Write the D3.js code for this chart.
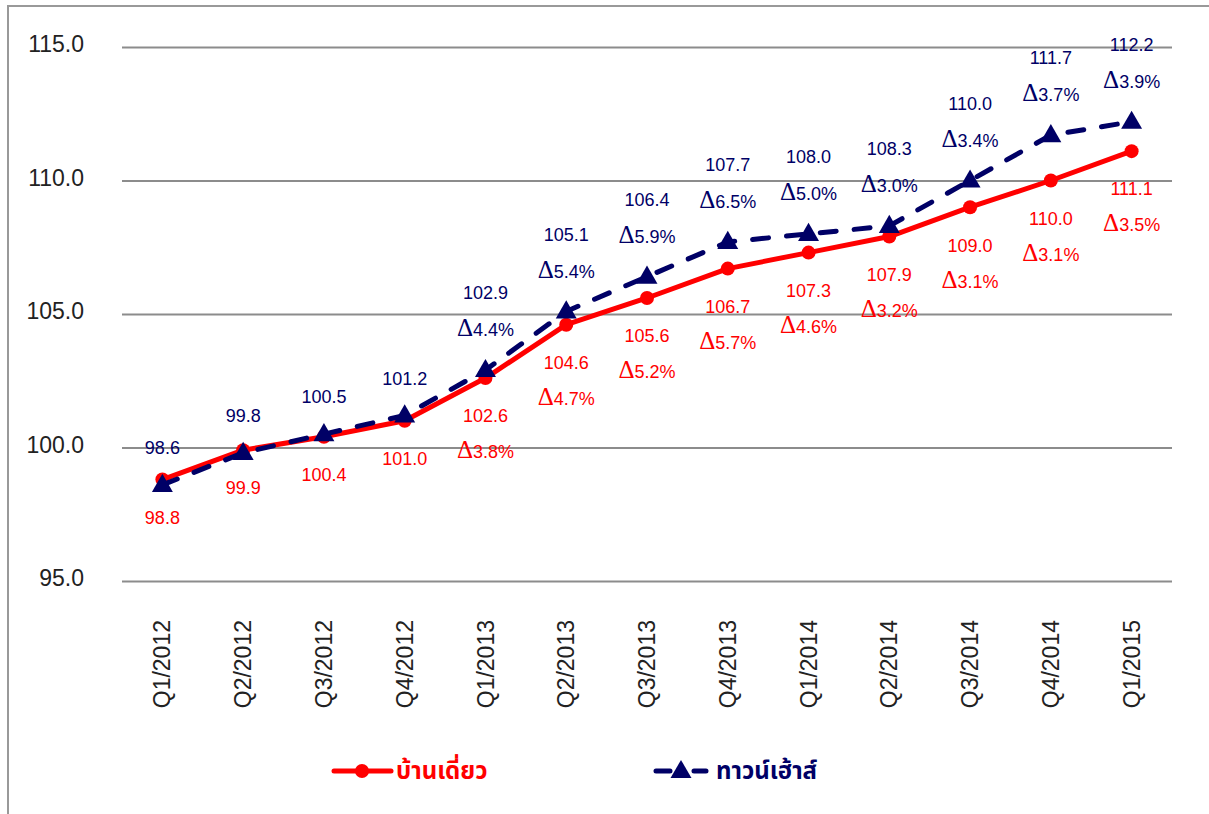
<!DOCTYPE html>
<html>
<head>
  <meta charset="utf-8">
  <title>ดัชนีราคาบ้านเดี่ยวและทาวน์เฮ้าส์</title>
  <script src="https://d3js.org/d3.v7.min.js"></script>
  <style>
    body { margin: 0; background: #fff; }
    .grid line { stroke: #8c8c8c; stroke-width: 2px; }
    .grid text { font: 23px "Liberation Sans", Arial, sans-serif; fill: #222; }
    .xaxis text { font: 23px "Liberation Sans", Arial, sans-serif; fill: #222; }
    .val { font: 18px "Liberation Sans", Arial, sans-serif; text-anchor: middle; }
    .delta { font-family: "Liberation Serif", "DejaVu Serif", serif; font-size: 25px; }
    .legend text { font: bold 24px "Noto Sans Thai", "Noto Sans", "DejaVu Sans", sans-serif; }
  </style>
</head>
<body>
<script>
  // quarters and index values
  const quarters = ["Q1/2012", "Q2/2012", "Q3/2012", "Q4/2012", "Q1/2013", "Q2/2013", "Q3/2013",
                    "Q4/2013", "Q1/2014", "Q2/2014", "Q3/2014", "Q4/2014", "Q1/2015"];
  const detached = [98.8, 99.9, 100.4, 101.0, 102.6, 104.6, 105.6, 106.7, 107.3, 107.9, 109.0, 110.0, 111.1];
  const townhouse = [98.6, 99.8, 100.5, 101.2, 102.9, 105.1, 106.4, 107.7, 108.0, 108.3, 110.0, 111.7, 112.2];
  // year-on-year change in %
  const detachedYoY = [null, null, null, null, 3.8, 4.7, 5.2, 5.7, 4.6, 3.2, 3.1, 3.1, 3.5];
  const townhouseYoY = [null, null, null, null, 4.4, 5.4, 5.9, 6.5, 5.0, 3.0, 3.4, 3.7, 3.9];
  const yTicks = [95, 100, 105, 110, 115];
  const seriesNames = ["บ้านเดี่ยว", "ทาวน์เฮ้าส์"];

  const red = "#ff0000";
  const navy = "#000066";

  const width = 1209, height = 814;
  const margin = { top: 47, right: 1172, bottom: 581, left: 122 };

  const svg = d3.select("body").append("svg")
      .attr("width", width)
      .attr("height", height);

  // outer frame (only top and left edges are visible)
  svg.append("path")
      .attr("d", `M8,${height} V6 H${width}`)
      .attr("fill", "none")
      .attr("stroke", "#999")
      .attr("stroke-width", 2);

  const x = d3.scaleBand().domain(quarters).range([margin.left, margin.right]);
  const cx = q => x(q) + x.bandwidth() / 2;
  const y = d3.scaleLinear().domain([95, 115]).range([margin.bottom, margin.top]);

  // gridlines + y labels
  const grid = svg.append("g")
      .attr("class", "grid")
      .attr("transform", `translate(${margin.left},0)`)
      .call(d3.axisLeft(y)
        .tickValues(yTicks)
        .tickSize(-(margin.right - margin.left))
        .tickPadding(38)
        .tickFormat(d3.format(".1f")));
  grid.select(".domain").remove();
  grid.selectAll("text").attr("dy", "0.2em");

  // category labels, rotated
  const xa = svg.append("g")
      .attr("class", "xaxis")
      .attr("transform", `translate(0,${margin.bottom})`)
      .call(d3.axisBottom(x).tickSize(0));
  xa.select(".domain").remove();
  xa.selectAll("text")
      .attr("transform", "rotate(-90)")
      .attr("text-anchor", "end")
      .attr("x", -39)
      .attr("y", 0)
      .attr("dy", "0.35em");

  const line = d3.line().x((d, i) => cx(quarters[i])).y(d => y(d));

  // detached houses
  svg.append("path")
      .datum(detached)
      .attr("d", line)
      .attr("fill", "none")
      .attr("stroke", red)
      .attr("stroke-width", 5)
      .attr("stroke-linejoin", "round");
  svg.selectAll(".dot")
    .data(detached)
    .enter().append("circle")
      .attr("class", "dot")
      .attr("cx", (d, i) => cx(quarters[i]))
      .attr("cy", d => y(d))
      .attr("r", 7)
      .attr("fill", red);

  // townhouses
  svg.append("path")
      .datum(townhouse)
      .attr("d", line)
      .attr("fill", "none")
      .attr("stroke", navy)
      .attr("stroke-width", 5)
      .attr("stroke-linecap", "round")
      .attr("stroke-dasharray", "16,18");
  const tri = d3.symbol().type(d3.symbolTriangle).size(190);
  svg.selectAll(".tri")
    .data(townhouse)
    .enter().append("path")
      .attr("class", "tri")
      .attr("d", tri)
      .attr("transform", (d, i) => `translate(${cx(quarters[i])},${y(d) + 1})`)
      .attr("fill", navy);

  // value + change labels
  function deltaLabel(sel, pct) {
    sel.append("tspan").attr("class", "delta").text("\u0394");
    sel.append("tspan").text(pct.toFixed(1) + "%");
  }

  detached.forEach((v, i) => {
    const px = cx(quarters[i]), py = y(v);
    svg.append("text").attr("class", "val")
      .attr("x", px).attr("y", py + 38).attr("dy", "0.35em")
      .attr("fill", red).text(v.toFixed(1));
    if (detachedYoY[i] != null) {
      svg.append("text").attr("class", "val")
        .attr("x", px).attr("y", py + 74).attr("dy", "0.35em")
        .attr("fill", red)
        .call(deltaLabel, detachedYoY[i]);
    }
  });

  townhouse.forEach((v, i) => {
    const px = cx(quarters[i]), py = y(v);
    const hasDelta = townhouseYoY[i] != null;
    svg.append("text").attr("class", "val")
      .attr("x", px).attr("y", py - (hasDelta ? 77 : 37)).attr("dy", "0.35em")
      .attr("fill", navy).text(v.toFixed(1));
    if (hasDelta) {
      svg.append("text").attr("class", "val")
        .attr("x", px).attr("y", py - 40).attr("dy", "0.35em")
        .attr("fill", navy)
        .call(deltaLabel, townhouseYoY[i]);
    }
  });

  // legend
  const legend = svg.append("g").attr("class", "legend");
  const ly = 771;
  legend.append("line")
      .attr("x1", 334).attr("x2", 391).attr("y1", ly).attr("y2", ly)
      .attr("stroke", red).attr("stroke-width", 5).attr("stroke-linecap", "round");
  legend.append("circle").attr("cx", 362).attr("cy", ly).attr("r", 7).attr("fill", red);
  legend.append("text").attr("x", 396).attr("y", ly).attr("dy", "0.35em")
      .attr("fill", red).text(seriesNames[0]);

  legend.append("line")
      .attr("x1", 656).attr("x2", 706).attr("y1", ly).attr("y2", ly)
      .attr("stroke", navy).attr("stroke-width", 5).attr("stroke-linecap", "round")
      .attr("stroke-dasharray", "14,24");
  legend.append("path").attr("d", tri)
      .attr("transform", `translate(681,${ly + 1})`).attr("fill", navy);
  legend.append("text").attr("x", 716).attr("y", ly).attr("dy", "0.35em")
      .attr("fill", navy).text(seriesNames[1]);
</script>
</body>
</html>
